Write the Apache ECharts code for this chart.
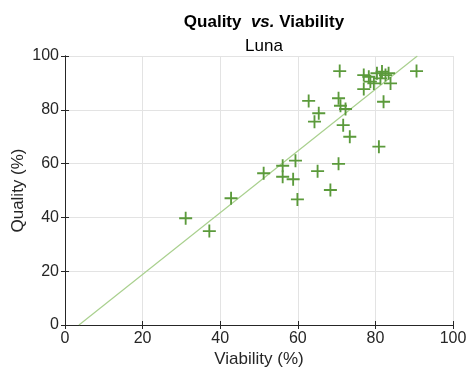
<!DOCTYPE html>
<html><head><meta charset="utf-8">
<script src="https://cdn.jsdelivr.net/npm/echarts@6/dist/echarts.min.js"></script>
<style>html,body{margin:0;padding:0;background:#fff}#c{width:467px;height:374px}</style>
</head><body><div id="c"></div>
<script>
const viability = [31.1,37.2,42.8,51.2,56.1,56.1,59.4,58.8,59.9,65.1,68.4,70.5,62.8,70.5,71.0,72.3,65.4,64.3,71.7,73.4,80.9,82.1,77.0,70.8,90.6,77.0,78.7,79.6,80.4,81.7,82.6,83.4,83.9,78.3,81.3];
const quality   = [39.7,34.9,47.1,56.4,59.2,55.1,61.1,54.2,46.7,57.2,50.2,59.9,83.3,84.3,81.5,80.3,78.7,75.6,74.3,70.0,66.3,83.0,87.7,94.4,94.4,92.9,90.5,89.8,93.6,94.2,92.9,93.6,89.8,92.3,91.7];
const fitX = [3.6, 90.8];
const fitY = [0, 100];
const ticks = [0,20,40,60,80,100];

const pts = viability.map((v,i)=>[v, quality[i]]);
const fit = fitX.map((v,i)=>[v, fitY[i]]);
const txt = '#262626';
const ff = 'Liberation Sans, Arial';
const ax = (name, pos, gap, show) => ({
  type:'value', min:ticks[0], max:ticks[ticks.length-1], interval:ticks[1]-ticks[0], position:pos,
  name: show ? name : '', nameLocation:'middle', nameGap:gap, nameMoveOverlap:false,
  nameTextStyle:{color:txt, fontSize:17, fontFamily:ff},
  axisLine:{show:true, lineStyle:{color:txt, width:1}},
  axisTick:{show:true, inside:true, length:4, lineStyle:{color:txt}},
  axisLabel:{show:show, color:txt, fontSize:16, fontFamily:ff, margin:6},
  splitLine:{show:show, lineStyle:{color:'#e3e3e3', width:1}}
});
const chart = echarts.init(document.getElementById('c'));
chart.setOption({
  animation:false,
  title:[
    {text:'{b|Quality  }{i|vs.}{b| Viability}', left:259, top:9, textAlign:'center',
     textStyle:{rich:{
       b:{fontSize:17, fontWeight:'bold', color:'#000', fontFamily:ff},
       i:{fontSize:17, fontWeight:'bold', fontStyle:'italic', color:'#000', fontFamily:ff}}}},
    {text:'Luna', left:259, top:33, textAlign:'center',
     textStyle:{fontSize:17, fontWeight:'normal', color:'#000', fontFamily:ff}}
  ],
  grid:{left:65, right:14, top:56, bottom:49, containLabel:false, outerBoundsMode:'none'},
  xAxis:[ax('Viability (%)','bottom',26,true), ax('','top',0,false)],
  yAxis:[ax('Quality (%)','left',38,true), ax('','right',0,false)],
  series:[
    {type:'line', data:fit, symbol:'none', lineStyle:{color:'#a9d08e', width:1.2}, z:2},
    {type:'scatter', data:pts, symbol:'path://M-1,-7 L1,-7 L1,-1 L7,-1 L7,1 L1,1 L1,7 L-1,7 L-1,1 L-7,1 L-7,-1 L-1,-1 Z',
     symbolSize:13, itemStyle:{color:'#5b9a3b', opacity:1}, z:3}
  ]
});
</script></body></html>
